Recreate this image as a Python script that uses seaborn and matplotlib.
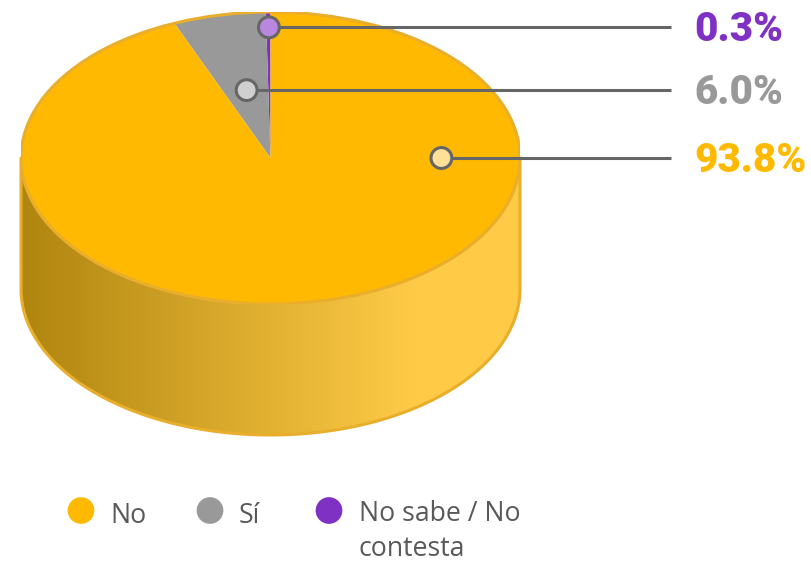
import numpy as np
import matplotlib
matplotlib.use("Agg")
import matplotlib.pyplot as plt
from matplotlib.colors import LinearSegmentedColormap
from matplotlib.patches import PathPatch, Ellipse
from matplotlib.path import Path
import pandas as pd
import seaborn as sns

categories = ["No sabe / No\ncontesta", "Sí", "No"]
values = [0.3, 6.0, 93.8]
value_labels = ["0.3%", "6.0%", "93.8%"]
colors = ["#7E31C3", "#999999", "#FFB900"]
dot_colors = ["#B986E0", "#D0D0D0", "#FFE099"]
legend_order = [2, 1, 0]

sns.set_theme(style="white")
W, H = 811, 562
CX, CY, RX, RY, DEPTH = 270.5, 158.0, 249.5, 146.0, 131.0
STROKE = "#E8AE2C"

fig = plt.figure(figsize=(W / 100, H / 100), dpi=100)


def px_axes(z):
    ax = fig.add_axes([0, 0, 1, 1], zorder=z)
    ax.set_xlim(0, W)
    ax.set_ylim(H, 0)
    ax.axis("off")
    ax.patch.set_alpha(0)
    return ax


# Cylinder side
side = px_axes(1)
t = np.linspace(np.pi, 0, 200)
xs = CX + RX * np.cos(t)
ys = CY + DEPTH + RY * np.sin(t)
outline = np.vstack([[CX - RX, CY], np.column_stack([xs, ys]), [CX + RX, CY]])
path = Path(np.vstack([outline, [CX - RX, CY]]))
cmap = LinearSegmentedColormap.from_list(
    "side", [(0, "#B0850F"), (0.79, "#FFCB47"), (1, "#FFCB47")])
im = side.imshow(np.linspace(0, 1, 256)[None, :], cmap=cmap, aspect="auto",
                 extent=[CX - RX, CX + RX, CY + DEPTH + RY, CY], zorder=1)
patch = PathPatch(path, facecolor="none", edgecolor="none", transform=side.transData)
side.add_patch(patch)
im.set_clip_path(patch)
side.plot(outline[:, 0], outline[:, 1], color=STROKE, lw=2.2, zorder=2, solid_joinstyle="round")
side.set_xlim(0, W)
side.set_ylim(H, 0)

# Top face: pie stretched into an ellipse
top = fig.add_axes([(CX - RX) / W, 1 - (CY + RY) / H, 2 * RX / W, 2 * RY / H], zorder=2)
top.pie(values, colors=colors, startangle=90, counterclock=True, radius=1,
        wedgeprops={"linewidth": 0}, normalize=True)
top.set_aspect("auto")
top.set_xlim(-1, 1)
top.set_ylim(-1, 1)
top.patch.set_alpha(0)
top.add_patch(Ellipse((0, 0), 2, 2, fill=False, edgecolor=STROKE, lw=2.2))
for s in top.spines.values():
    s.set_visible(False)

# Overlay: leaders, labels, legend
over = px_axes(3)
frac = np.array(values) / sum(values)
mid = np.cumsum(frac) - frac / 2
anchor_deg = [np.degrees(mid[0] * 2 * np.pi), np.degrees(mid[1] * 2 * np.pi), 270.0]
anchor_r = [0.895, 0.475, 0.683]
anchors = []
for a, r in zip(anchor_deg, anchor_r):
    th = np.radians(a)
    anchors.append((CX - r * RX * np.sin(th) + 0.5, CY - r * RY * np.cos(th)))
anchors = np.array(anchors)

for (x, y), lab, c in zip(anchors, value_labels, colors):
    over.plot([x, 671], [y, y], color="#666666", lw=2.2, zorder=2, solid_capstyle="butt")
    over.text(694, y + 14, lab, color=c, fontsize=29, fontweight="black",
              family=["Roboto", "DejaVu Sans"], va="baseline", ha="left", zorder=4)

dots = pd.DataFrame({"x": anchors[:, 0], "y": anchors[:, 1], "c": categories})
sns.scatterplot(data=dots, x="x", y="y", hue="c", hue_order=categories,
                palette=dict(zip(categories, dot_colors)), s=225, edgecolor="#666666",
                linewidth=2.2, legend=False, ax=over, zorder=3)

legend_x = [81, 210, 329]
legend_tx = [110, 239, 359]
legend_df = pd.DataFrame({"x": legend_x, "y": [510.5] * 3,
                          "c": [categories[i] for i in legend_order]})
sns.scatterplot(data=legend_df, x="x", y="y", hue="c",
                palette=dict(zip(categories, colors)), s=370, edgecolor="none",
                legend=False, ax=over, zorder=3)
for i, tx in zip(legend_order, legend_tx):
    y = 555.5 if "\n" in categories[i] else 523
    over.text(tx, y, categories[i], fontsize=19.2, color="#595959", family="Open Sans",
              va="baseline", ha="left", linespacing=1.3)
over.set_xlim(0, W)
over.set_ylim(H, 0)
over.axis("off")

fig.savefig("out.png", dpi=100)
